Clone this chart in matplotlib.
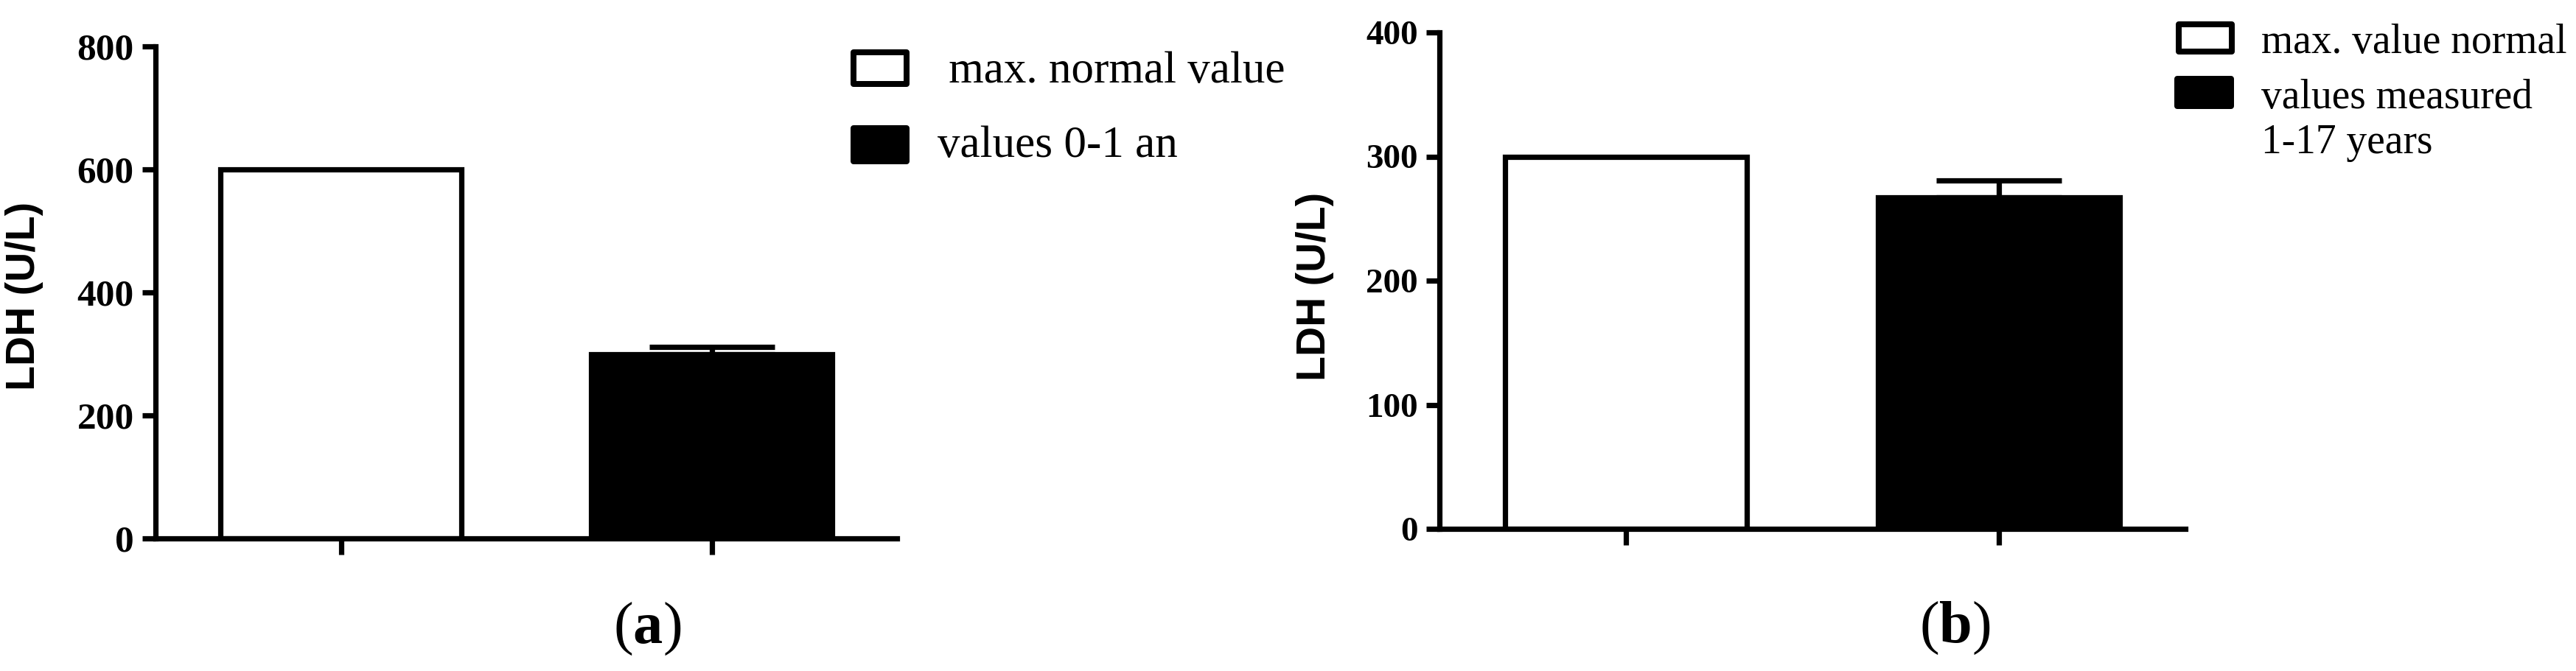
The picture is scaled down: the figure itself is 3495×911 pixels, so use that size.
import matplotlib
matplotlib.use("Agg")
import matplotlib.pyplot as plt
from matplotlib.patches import Rectangle

plt.rcParams['font.family'] = ['Liberation Serif', 'DejaVu Serif']
plt.rcParams['mathtext.fontset'] = 'custom'
plt.rcParams['mathtext.rm'] = 'Liberation Serif'
plt.rcParams['mathtext.bf'] = 'Liberation Serif:bold'

# data
groups = [0, 1]
ldh_a = [600, 300]      # max. normal value, measured 0-1 an
err_a = [0, 11]
ldh_b = [300, 267]      # max. normal value, measured 1-17 years
err_b = [0, 14]
yticks_a = [0, 200, 400, 600, 800]
yticks_b = [0, 100, 200, 300, 400]
bar_fills = ['white', 'black']

W, H = 3495, 911
fig = plt.figure(figsize=(W / 100, H / 100), dpi=100)

LW = 5.2


def px_box(x0, y0, x1, y1):
    # pixel box (top-left origin) -> figure fraction rect
    return [x0 / W, 1 - y1 / H, (x1 - x0) / W, (y1 - y0) / H]


def draw_panel(rect, vals, errs, yticks, tick_fs, label_xy):
    ax = fig.add_axes(rect)
    ax.bar(groups, vals, width=0.65, color=bar_fills, edgecolor='black',
           linewidth=LW, zorder=2)
    ax.errorbar(groups[1:], vals[1:], yerr=[[0], errs[1:]], fmt='none',
                ecolor='black', elinewidth=LW, capsize=61, capthick=LW, zorder=3)
    ax.set_xlim(-0.5, 1.5)
    ax.set_ylim(yticks[0], yticks[-1])
    ax.set_yticks(yticks)
    ax.set_xticks(groups)
    ax.set_xticklabels([])
    for s in ['top', 'right']:
        ax.spines[s].set_visible(False)
    for s in ['left', 'bottom']:
        ax.spines[s].set_linewidth(LW)
    ax.tick_params(axis='y', length=13, width=LW, pad=8, labelsize=tick_fs)
    ax.tick_params(axis='x', length=16, width=LW)
    for t in ax.get_yticklabels():
        t.set_fontweight('bold')
    ax.set_ylabel('LDH (U/L)', family=['Liberation Sans', 'DejaVu Sans'],
                  fontweight='bold', fontsize=40)
    ax.yaxis.set_label_coords(*label_xy)
    return ax


ax_a = draw_panel(px_box(211, 63, 1217, 731), ldh_a, err_a, yticks_a, 37, (-0.151, 0.4925))
ax_b = draw_panel(px_box(1953, 44, 2965, 718), ldh_b, err_b, yticks_b, 34, (-0.1413, 0.488))


def key_box(x0, y0, x1, y1, fill):
    lw_px = 8
    r = Rectangle(((x0 + lw_px / 2) / W, 1 - (y1 - lw_px / 2) / H),
                  (x1 - x0 - lw_px) / W, (y1 - y0 - lw_px) / H,
                  transform=fig.transFigure, facecolor=fill, edgecolor='black',
                  linewidth=lw_px * 0.72, joinstyle='round')
    fig.add_artist(r)


def key_text(x, y_base, s, fs):
    fig.text(x / W, 1 - y_base / H, s, ha='left', va='baseline', fontsize=fs)


# legend of panel (a)
key_box(1154, 67, 1234, 118, 'white')
key_box(1154, 170, 1234, 223, 'black')
key_text(1272, 112, ' max. normal value', 44)
key_text(1272, 213, 'values 0-1 an', 44)

# legend of panel (b)
key_box(2952, 29, 3032, 74, 'white')
key_box(2950, 103, 3031, 148, 'black')
key_text(3068, 72, 'max. value normal', 40)
key_text(3068, 147, 'values measured', 40)
key_text(3068, 208, '1-17 years', 40)

# panel letters
fig.text(878 / W, 1 - 854 / H, r'($\mathbf{a}$)', ha='center', va='center', fontsize=58)
fig.text(2652 / W, 1 - 853 / H, r'($\mathbf{b}$)', ha='center', va='center', fontsize=58)

fig.savefig('out.png', dpi=100, facecolor='white')
